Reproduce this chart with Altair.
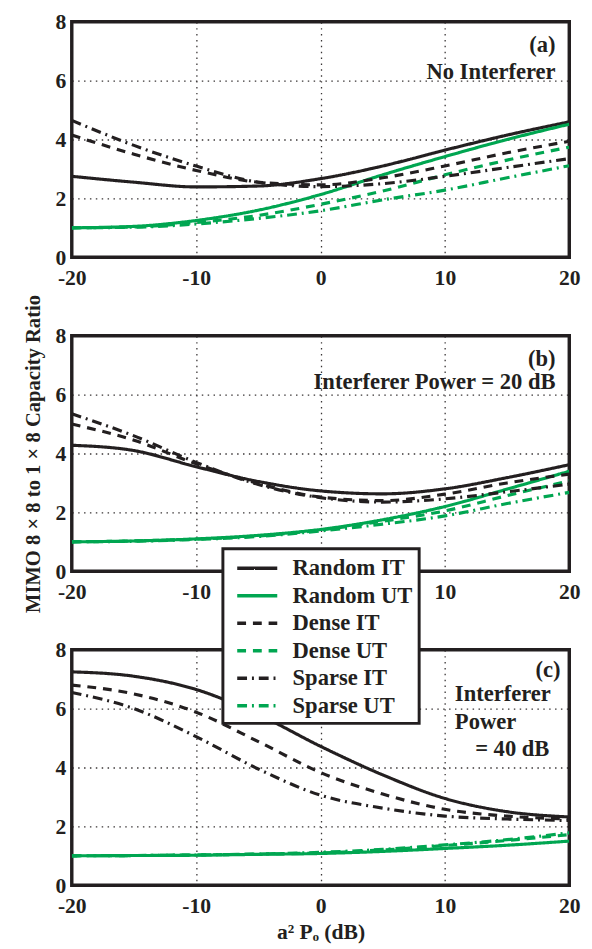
import altair as alt
import pandas as pd

X = [-20, -15, -10, -5, 0, 5, 10, 15, 20]
SERIES = ["Random IT", "Random UT", "Dense IT", "Dense UT", "Sparse IT", "Sparse UT"]
COLORS = ["#231f20", "#00a651", "#231f20", "#00a651", "#231f20", "#00a651"]
DASHES = [[1, 0], [1, 0], [9, 7], [9, 7], [10, 5, 2, 5], [10, 5, 2, 5]]
X_TICKS = [-20, -10, 0, 10, 20]
Y_TICKS = [0, 2, 4, 6, 8]

# Panel (a): No interferer
A_RANDOM_IT = [2.75, 2.55, 2.39, 2.42, 2.67, 3.10, 3.64, 4.15, 4.60]
A_RANDOM_UT = [1.00, 1.05, 1.25, 1.60, 2.13, 2.80, 3.42, 4.00, 4.52]
A_DENSE_IT = [4.15, 3.50, 2.95, 2.55, 2.46, 2.70, 3.10, 3.55, 3.94]
A_DENSE_UT = [1.00, 1.03, 1.18, 1.42, 1.80, 2.25, 2.80, 3.30, 3.74]
A_SPARSE_IT = [4.65, 3.80, 3.10, 2.55, 2.40, 2.50, 2.75, 3.05, 3.35]
A_SPARSE_UT = [1.00, 1.02, 1.13, 1.32, 1.58, 1.95, 2.28, 2.70, 3.11]

# Panel (b): Interferer power = 20 dB
B_RANDOM_IT = [4.28, 4.10, 3.55, 3.05, 2.73, 2.63, 2.80, 3.18, 3.62]
B_RANDOM_UT = [1.00, 1.03, 1.10, 1.22, 1.42, 1.75, 2.20, 2.79, 3.40]
B_DENSE_IT = [5.00, 4.45, 3.65, 2.98, 2.52, 2.40, 2.62, 3.00, 3.30]
B_DENSE_UT = [1.00, 1.03, 1.09, 1.20, 1.40, 1.70, 2.05, 2.57, 3.07]
B_SPARSE_IT = [5.35, 4.60, 3.70, 2.95, 2.50, 2.35, 2.46, 2.70, 2.96]
B_SPARSE_UT = [1.00, 1.02, 1.08, 1.18, 1.37, 1.60, 1.88, 2.30, 2.68]

# Panel (c): Interferer power = 40 dB
C_RANDOM_IT = [7.25, 7.10, 6.65, 5.80, 4.72, 3.75, 2.95, 2.50, 2.32]
C_RANDOM_UT = [1.00, 1.01, 1.02, 1.05, 1.08, 1.15, 1.25, 1.36, 1.50]
C_DENSE_IT = [6.80, 6.50, 5.88, 4.88, 3.83, 3.10, 2.58, 2.35, 2.25]
C_DENSE_UT = [1.00, 1.01, 1.03, 1.06, 1.10, 1.20, 1.35, 1.52, 1.72]
C_SPARSE_IT = [6.55, 6.00, 5.05, 3.95, 3.06, 2.62, 2.35, 2.25, 2.20]
C_SPARSE_UT = [1.00, 1.01, 1.03, 1.06, 1.12, 1.22, 1.37, 1.55, 1.78]

# annotations: (text, x, y, align)
A_TEXT = [("(a)", 18.9, 7.2, "right"), ("No Interferer", 18.9, 6.3, "right")]
B_TEXT = [("(b)", 18.9, 7.2, "right"), ("Interferer Power = 20 dB", 18.9, 6.43, "right")]
C_TEXT = [("(c)", 19.3, 7.3, "right"), ("Interferer", 10.8, 6.5, "left"),
          ("Power", 10.8, 5.55, "left"), ("= 40 dB", 18.4, 4.62, "right")]

FONT = "Liberation Serif"
INK = "#231f20"


def long_df(series_lists):
    rows = []
    for name, vals in zip(SERIES, series_lists):
        for xv, yv in zip(X, vals):
            rows.append({"x": xv, "y": yv, "series": name})
    return pd.DataFrame(rows)


legend = alt.Legend(
    orient="none", legendX=154, legendY=537, title=None,
    symbolType="M-1.7,0H1.7", symbolSize=576, symbolStrokeWidth=3.5,
    labelFont=FONT, labelFontSize=23, labelFontWeight="bold", labelColor=INK,
    labelOffset=22, padding=6, symbolOffset=15, rowPadding=2,
    strokeColor=INK, fillColor="white",
)


def panel(series_lists, texts, xtitle=None, ytitle=None):
    df = long_df(series_lists)
    xaxis = alt.Axis(values=X_TICKS, labelExpr="'' + datum.value", labelFlush=False,
                     title=xtitle if xtitle else None)
    yaxis = alt.Axis(values=Y_TICKS, labelExpr="'' + datum.value",
                     title=ytitle if ytitle else None)
    lines = alt.Chart(df).mark_line(strokeWidth=3.2, interpolate="monotone", clip=True).encode(
        x=alt.X("x:Q", scale=alt.Scale(domain=[-20, 20], nice=False), axis=xaxis),
        y=alt.Y("y:Q", scale=alt.Scale(domain=[0, 8], nice=False), axis=yaxis),
        color=alt.Color("series:N", scale=alt.Scale(domain=SERIES, range=COLORS), legend=legend),
        strokeDash=alt.StrokeDash("series:N", scale=alt.Scale(domain=SERIES, range=DASHES), legend=legend),
        order=alt.Order("x:Q"),
    )
    tdf = pd.DataFrame([{"t": t, "x": xv, "y": yv, "al": al} for t, xv, yv, al in texts])
    right = alt.Chart(tdf[tdf.al == "right"]).mark_text(
        align="right", baseline="middle", font=FONT, fontSize=23, fontWeight="bold", color=INK
    ).encode(x="x:Q", y="y:Q", text="t:N")
    layers = [lines, right]
    if (tdf.al == "left").any():
        left = alt.Chart(tdf[tdf.al == "left"]).mark_text(
            align="left", baseline="middle", font=FONT, fontSize=23, fontWeight="bold", color=INK
        ).encode(x="x:Q", y="y:Q", text="t:N")
        layers.append(left)
    return alt.layer(*layers).properties(width=507, height=240)


pa = panel([A_RANDOM_IT, A_RANDOM_UT, A_DENSE_IT, A_DENSE_UT, A_SPARSE_IT, A_SPARSE_UT], A_TEXT)
pb = panel([B_RANDOM_IT, B_RANDOM_UT, B_DENSE_IT, B_DENSE_UT, B_SPARSE_IT, B_SPARSE_UT], B_TEXT,
           ytitle="MIMO 8 \u00d7 8 to 1 \u00d7 8 Capacity Ratio")
pc = panel([C_RANDOM_IT, C_RANDOM_UT, C_DENSE_IT, C_DENSE_UT, C_SPARSE_IT, C_SPARSE_UT], C_TEXT,
           xtitle="a\u00b2 P\u2092  (dB)")

chart = alt.vconcat(pa, pb, pc, spacing=80, bounds="flush").properties(
    padding={"left": 13, "top": -8, "right": 2, "bottom": 0}
).configure_axis(
    domain=False, ticks=False, grid=True,
    gridColor=INK, gridDash=[1.5, 4.5], gridWidth=1.3, gridOpacity=0.9,
    labelFont=FONT, labelFontSize=22, labelFontWeight="bold", labelColor=INK,
    titleFont=FONT, titleFontSize=21, titleFontWeight="bold", titleColor=INK,
).configure_axisX(labelPadding=11, titlePadding=5, titleFontSize=22).configure_axisY(
    labelPadding=6, titlePadding=12
).configure_legend(strokeWidth=3).configure_view(stroke=INK, strokeWidth=3.5)

chart.save("out.html", embed_options={"renderer": "svg", "actions": False})
